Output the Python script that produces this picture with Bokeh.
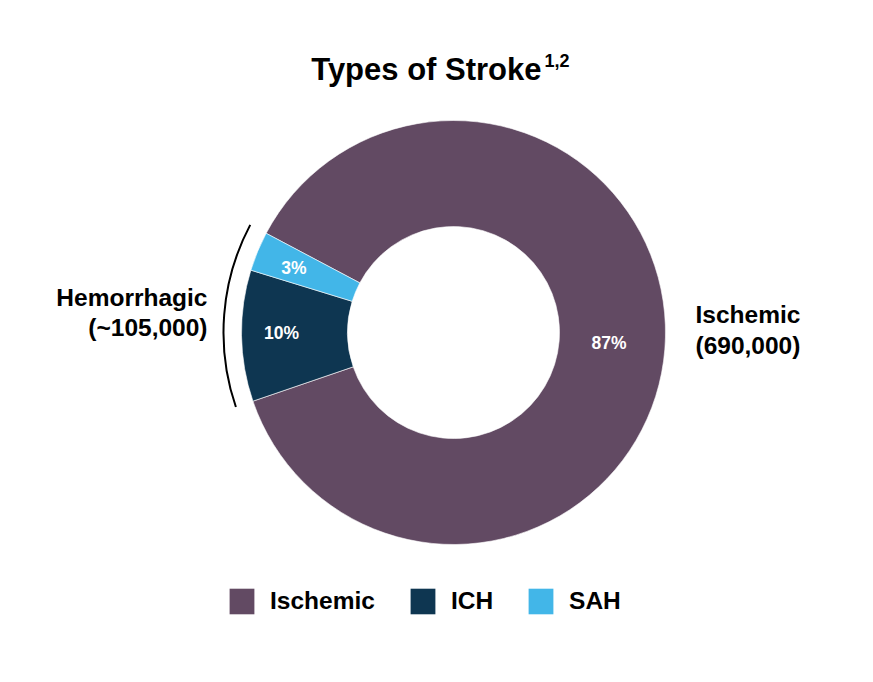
import math

from bokeh.core.properties import value
from bokeh.embed import file_html
from bokeh.models import ColumnDataSource, Legend, LegendItem, Range1d
from bokeh.plotting import figure
from bokeh.resources import INLINE

# data
categories = ["Ischemic", "ICH", "SAH"]
shares = [87, 10, 3]
colors = ["#624a63", "#0e3651", "#42b6e8"]
group_names = ["Hemorrhagic", "Ischemic"]
group_counts = ["(~105,000)", "(690,000)"]
title_text = "Types of Stroke"
title_refs = "1,2"

W, H = 865, 674
FONT = value("Liberation Sans")
TXT_SHIFT = 8  # svg text sits a bit low with alphabetic baseline


def Y(sy):
    # page pixel row -> data y
    return 682 - sy


def YT(sy):
    return Y(sy) + TXT_SHIFT


CX, CY = 453, Y(332)
R_OUT, R_IN = 212, 106
START = 152.1  # degrees, where the slices begin, going clockwise

# slices clockwise from START: Ischemic, ICH, SAH
total = float(sum(shares))
ends, starts = [], []
a = START
for s in shares:
    span = 360.0 * s / total
    ends.append(math.radians(a))
    starts.append(math.radians(a - span))
    a -= span
mids = [(s + e) / 2 for s, e in zip(starts, ends)]

src = ColumnDataSource(dict(
    cat=categories, start=starts, end=ends, color=colors,
    lx=[CX - 8 + 164 * math.cos(m) for m in mids],
    ly=[CY + 2 + 164 * math.sin(m) for m in mids],
    pct=["{}%".format(s) for s in shares],
))

p = figure(width=W, height=H, output_backend="svg", toolbar_location=None,
           x_range=Range1d(0, W), y_range=Range1d(Y(H), Y(0)),
           min_border=0, tools="")
p.axis.visible = False
p.grid.visible = False
p.outline_line_color = None

p.annular_wedge(x=CX, y=CY, inner_radius=R_IN, outer_radius=R_OUT,
                start_angle="start", end_angle="end", fill_color="color",
                line_color="white", line_width=0.6, source=src)

p.text(x="lx", y="ly", text="pct", source=src, text_color="white",
       text_font=FONT, text_font_style="bold", text_font_size="17.5px",
       text_align="center", text_baseline="middle")

# bracket around the hemorrhagic slices
p.arc(x=CX, y=CY, radius=230, start_angle=starts[0] + 2 * math.pi,
      end_angle=ends[0], direction="clock", line_color="black", line_width=2)

# side labels
lab_kw = dict(text_font=FONT, text_font_style="bold", text_font_size="24.5px",
              text_color="black", text_baseline="alphabetic")
p.text(x=[207, 207], y=[YT(305), YT(335)], text=[group_names[0], group_counts[0]],
       text_align="right", **lab_kw)
p.text(x=[695, 695], y=[YT(322), YT(353)], text=[group_names[1], group_counts[1]],
       text_align="left", **lab_kw)

# title with superscript references
p.text(x=[541], y=[YT(77)], text=[title_text], text_align="right",
       text_font=FONT, text_font_style="bold", text_font_size="31px",
       text_baseline="alphabetic", text_color="black")
p.text(x=[544], y=[YT(68)], text=[title_refs], text_align="left",
       text_font=FONT, text_font_style="bold", text_font_size="18px",
       text_baseline="alphabetic", text_color="black")

# legend (swatch-only renderers, nothing drawn on the canvas)
nan = float("nan")
items = []
for cat, col in zip(categories, colors):
    r = p.quad(left=[nan], right=[nan], top=[nan], bottom=[nan],
               fill_color=col, line_color=None)
    items.append(LegendItem(label=cat, renderers=[r]))
legend = Legend(items=items, orientation="horizontal", location=(226, 674 - 617),
                glyph_width=31, glyph_height=32, label_standoff=13, spacing=32,
                padding=0, margin=0, border_line_color=None,
                background_fill_alpha=0, label_text_font="Liberation Sans",
                label_text_font_style="bold", label_text_font_size="24.5px",
                label_text_color="black")
p.add_layout(legend, "center")

open("out.html", "w").write(file_html(p, INLINE))
